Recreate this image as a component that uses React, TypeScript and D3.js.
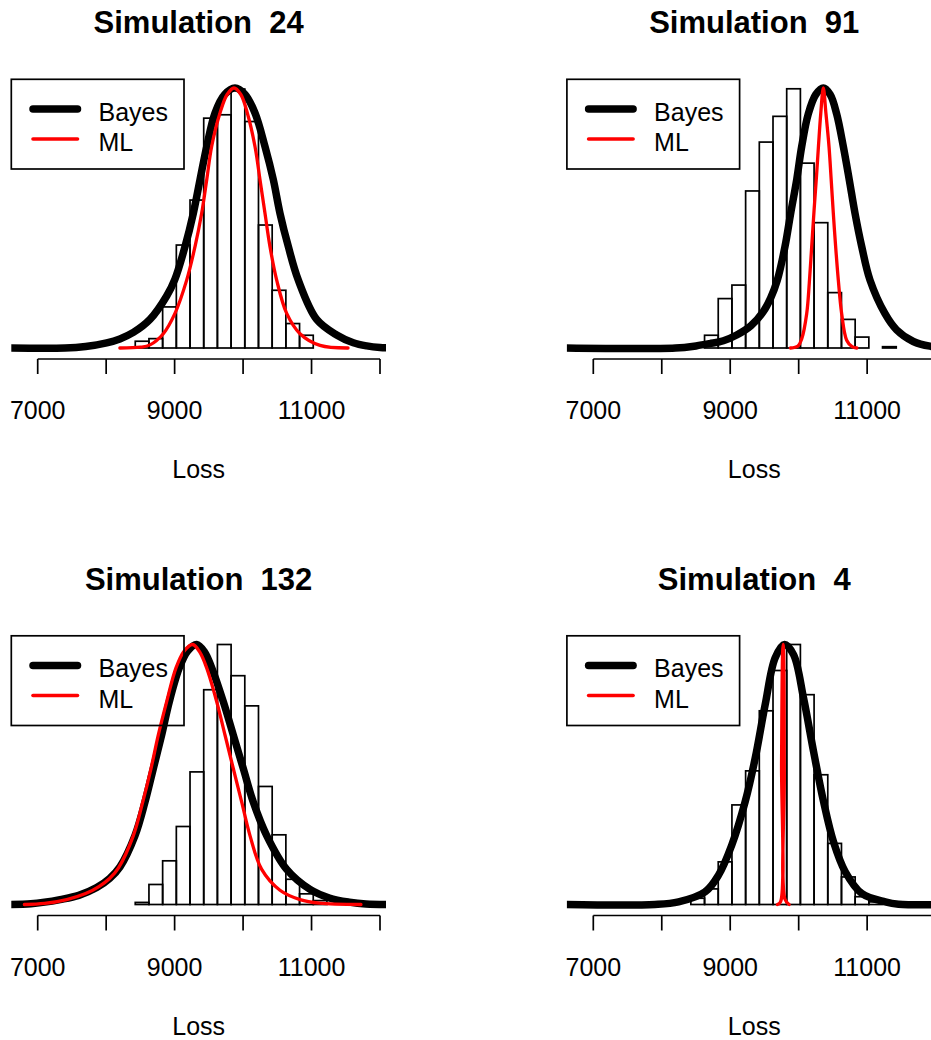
import React from "react";
import * as d3 from "d3";

// ---------- data ----------
const titles = ["Simulation  24", "Simulation  91", "Simulation  132", "Simulation  4"];
const xTicks = [7000, 8000, 9000, 10000, 11000, 12000];
const xTickLabels = ["7000", "", "9000", "", "11000", ""];
const xLabel = "Loss";
const legendLabels = ["Bayes", "ML"];

// histogram breaks (bin width 200)
const binStart = 8425;
const binWidth = 200;

// relative bar heights (tallest ~ 1)
const hist24 = [0.026, 0.036, 0.158, 0.396, 0.569, 0.884, 0.897, 0.996, 0.871, 0.473, 0.222, 0.094, 0.049];
const hist91 = [0, 0.049, 0.19, 0.242, 0.604, 0.792, 0.891, 0.997, 0.711, 0.482, 0.213, 0.11, 0.042, 0, 0.005];
const hist132 = [0.008, 0.077, 0.168, 0.3, 0.51, 0.826, 1.0, 0.88, 0.764, 0.454, 0.268, 0.097, 0.041, 0.015];
const hist4 = [0.024, 0.06, 0.164, 0.383, 0.514, 0.745, 0.9, 1.0, 0.807, 0.499, 0.235, 0.106, 0.03, 0.01];

// Bayes predictive density (relative)
const bayes24: [number, number][] = [
  [6600, 0], [7400, 0], [7700, 0.006], [8008, 0.02], [8200, 0.035], [8397, 0.06], [8640, 0.11],
  [8884, 0.2], [9005, 0.265], [9152, 0.39], [9273, 0.518], [9371, 0.647], [9469, 0.775],
  [9590, 0.904], [9730, 0.975], [9882, 1.0], [10030, 0.975], [10174, 0.904], [10320, 0.775],
  [10442, 0.647], [10539, 0.518], [10661, 0.39], [10807, 0.261], [11075, 0.11], [11367, 0.05],
  [11610, 0.02], [11806, 0.008], [12000, 0.002], [12300, 0],
];
const bayes91: [number, number][] = [
  [6600, 0], [8200, 0], [8500, 0.008], [8700, 0.017], [8900, 0.028], [9095, 0.05], [9300, 0.085],
  [9483, 0.14], [9590, 0.192], [9688, 0.261], [9800, 0.39], [9883, 0.518], [9971, 0.647], [10044, 0.775],
  [10140, 0.9], [10250, 0.975], [10360, 1.0], [10460, 0.975], [10555, 0.9], [10652, 0.775],
  [10739, 0.647], [10823, 0.518], [10921, 0.39], [11042, 0.261], [11261, 0.132], [11430, 0.07],
  [11674, 0.025], [11917, 0.007], [12300, 0],
];
const bayes132: [number, number][] = [
  [6600, 0], [6900, 0.003], [7100, 0.009], [7326, 0.019], [7600, 0.035], [7862, 0.065], [8050, 0.1],
  [8202, 0.145], [8421, 0.265], [8567, 0.394], [8689, 0.523], [8811, 0.652], [8922, 0.78], [9068, 0.91],
  [9190, 0.975], [9322, 1.0], [9440, 0.97], [9542, 0.91], [9711, 0.78], [9857, 0.652], [10003, 0.523],
  [10149, 0.394], [10345, 0.265], [10637, 0.135], [10978, 0.058], [11260, 0.025], [11552, 0.009],
  [11796, 0.002], [12300, 0],
];
const bayes4: [number, number][] = [
  [6600, 0], [7900, 0], [8245, 0.01], [8635, 0.049], [8829, 0.113], [9023, 0.229], [9219, 0.396],
  [9365, 0.563], [9511, 0.769], [9657, 0.949], [9793, 1.0], [9925, 0.961], [10071, 0.794],
  [10217, 0.589], [10363, 0.396], [10509, 0.241], [10680, 0.126], [10923, 0.042], [11265, 0.01],
  [11459, 0.001], [12300, 0],
];

// ML plug-in density (relative)
const ml24: [number, number][] = [
  [8200, 0], [8500, 0.003], [8640, 0.012], [8835, 0.055], [9005, 0.133], [9176, 0.261], [9298, 0.39],
  [9395, 0.518], [9469, 0.647], [9541, 0.775], [9663, 0.904], [9767, 0.975], [9867, 1.0], [9967, 0.975],
  [10062, 0.904], [10174, 0.775], [10247, 0.647], [10320, 0.518], [10393, 0.39], [10491, 0.261],
  [10637, 0.133], [10831, 0.055], [11124, 0.01], [11533, 0],
];
const ml91: [number, number][] = [
  [9880, 0], [9990, 0.008], [10044, 0.035], [10117, 0.132], [10155, 0.25], [10190, 0.39], [10225, 0.53],
  [10260, 0.66], [10290, 0.78], [10322, 0.9], [10360, 1.0], [10399, 0.9], [10443, 0.775],
  [10475, 0.647], [10506, 0.518], [10540, 0.39], [10579, 0.261], [10628, 0.132], [10701, 0.03],
  [10780, 0.005], [10850, 0],
];
const ml132: [number, number][] = [
  [6805, 0], [7100, 0.004], [7424, 0.019], [7700, 0.042], [7900, 0.07], [8050, 0.1], [8178, 0.14],
  [8397, 0.265], [8534, 0.394], [8655, 0.523], [8762, 0.652], [8884, 0.78], [9020, 0.91], [9140, 0.975],
  [9264, 1.0], [9370, 0.97], [9468, 0.91], [9615, 0.78], [9736, 0.652], [9857, 0.523], [9980, 0.394],
  [10101, 0.265], [10272, 0.135], [10539, 0.055], [10832, 0.019], [11114, 0.005], [11722, 0],
];
const ml4: [number, number][] = [
  [9690, 0], [9735, 0.01], [9750, 0.55], [9765, 0.97], [9773, 1.0], [9781, 0.96], [9790, 0.5],
  [9800, 0.02], [9860, 0],
];

const panels = [
  { title: titles[0], hist: hist24, bayes: bayes24, ml: ml24, col: 0, row: 0 },
  { title: titles[1], hist: hist91, bayes: bayes91, ml: ml91, col: 1, row: 0 },
  { title: titles[2], hist: hist132, bayes: bayes132, ml: ml132, col: 0, row: 1 },
  { title: titles[3], hist: hist4, bayes: bayes4, ml: ml4, col: 1, row: 1 },
];

// ---------- layout ----------
const W = 931;
const H = 1040;
const COL_DX = 555.6;
const ROW_DY = 556.5;
const FONT = "'Liberation Sans', Arial, Helvetica, sans-serif";

function Panel({ p, idx }: { p: typeof panels[number]; idx: number }) {
  const dx = p.col * COL_DX;
  const dy = p.row * ROW_DY;
  const x = d3.scaleLinear().domain([7000, 12000]).range([37.7 + dx, 380 + dx]);
  const y = d3.scaleLinear().domain([0, 1]).range([348 + dy, 88 + dy]);
  const plotL = 11.3 + dx, plotR = 386 + dx, plotT = 79.3 + dy, plotB = 359 + dy;
  const clipId = `clip${idx}`;
  const line = d3
    .line<[number, number]>()
    .x((d) => x(d[0]))
    .y((d) => y(d[1]))
    .curve(d3.curveCatmullRom.alpha(0.5));
  const axisY = plotB;
  const legX0 = plotL, legX1 = 184 + dx, legY0 = plotT, legY1 = 169 + dy;
  return (
    <g>
      <defs>
        <clipPath id={clipId}>
          <rect x={plotL} y={plotT - 20} width={plotR - plotL} height={plotB - plotT + 20} />
        </clipPath>
      </defs>
      <text
        x={(plotL + plotR) / 2}
        y={33.3 + dy}
        textAnchor="middle"
        fontFamily={FONT}
        fontWeight="bold"
        fontSize={31}
        style={{ whiteSpace: "pre" }}
      >
        {p.title}
      </text>
      <g clipPath={`url(#${clipId})`}>
        {p.hist.map((h, i) => {
          const x0 = binStart + i * binWidth;
          if (h <= 0) return null;
          return (
            <rect
              key={i}
              x={x(x0)}
              y={y(h)}
              width={x(x0 + binWidth) - x(x0)}
              height={y(0) - y(h)}
              fill="none"
              stroke="#000"
              strokeWidth={1.7}
            />
          );
        })}
        <path d={line(p.bayes) || ""} fill="none" stroke="#000" strokeWidth={7.5} strokeLinecap="round" strokeLinejoin="round" />
        <path d={line(p.ml) || ""} fill="none" stroke="#ff0000" strokeWidth={3.3} strokeLinecap="round" strokeLinejoin="round" />
      </g>
      {/* x axis */}
      <line x1={x(xTicks[0])} x2={x(xTicks[xTicks.length - 1])} y1={axisY} y2={axisY} stroke="#000" strokeWidth={1.7} />
      {xTicks.map((t, i) => (
        <g key={t}>
          <line x1={x(t)} x2={x(t)} y1={axisY} y2={axisY + 15} stroke="#000" strokeWidth={1.7} />
          {xTickLabels[i] && (
            <text x={x(t)} y={419 + dy} textAnchor="middle" fontFamily={FONT} fontSize={25}>
              {xTickLabels[i]}
            </text>
          )}
        </g>
      ))}
      <text x={(plotL + plotR) / 2} y={478.3 + dy} textAnchor="middle" fontFamily={FONT} fontSize={25}>
        {xLabel}
      </text>
      {/* legend (transparent background, as in the reference) */}
      <rect x={legX0} y={legY0} width={legX1 - legX0} height={legY1 - legY0} fill="none" stroke="#000" strokeWidth={1.7} />
      <line x1={33 + dx} x2={77.5 + dx} y1={109 + dy} y2={109 + dy} stroke="#000" strokeWidth={7.5} strokeLinecap="round" />
      <line x1={33 + dx} x2={77.5 + dx} y1={139 + dy} y2={139 + dy} stroke="#ff0000" strokeWidth={3.6} strokeLinecap="round" />
      <text x={98.5 + dx} y={120.7 + dy} fontFamily={FONT} fontSize={25}>
        {legendLabels[0]}
      </text>
      <text x={98.5 + dx} y={151 + dy} fontFamily={FONT} fontSize={25}>
        {legendLabels[1]}
      </text>
    </g>
  );
}

export default function App() {
  return (
    <svg
      width={W}
      height={H}
      viewBox={`0 0 ${W} ${H}`}
      style={{ position: "absolute", left: 0, top: 0, background: "#fff" }}
    >
      <rect x={0} y={0} width={W} height={H} fill="#fff" />
      {panels.map((p, i) => (
        <Panel key={i} p={p} idx={i} />
      ))}
    </svg>
  );
}
